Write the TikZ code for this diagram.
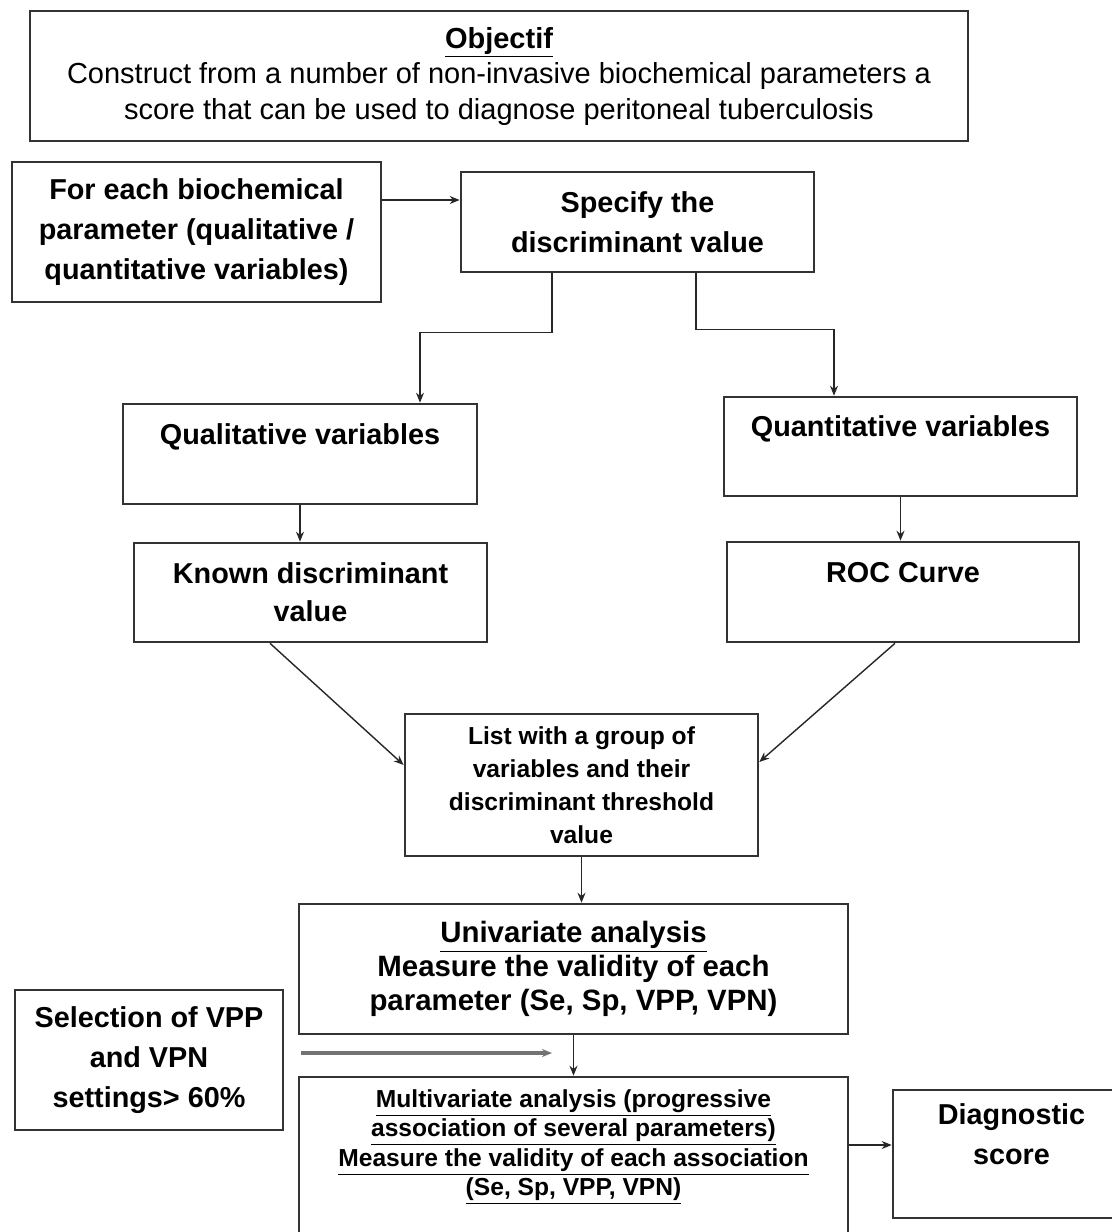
\documentclass[tikz,border=0pt]{standalone}
\usepackage{fontspec}
\setmainfont{Liberation Sans}
\usetikzlibrary{arrows.meta}

\tikzset{every picture/.style={line width=0.75pt}}
\tikzset{
  box/.style={draw=black!80, line width=1.3pt, align=center, inner sep=0pt,
    font=\bfseries\fontsize{14.4}{20}\selectfont},
  arr/.style={-{Stealth[length=5pt,width=4pt]}, line width=0.7pt, draw=black!85},
}

\begin{document}
\begin{tikzpicture}[x=0.5pt,y=-0.5pt]
	\useasboundingbox (0,0) rectangle (1112,1232);
	\clip (0,0) rectangle (1112,1232);
	%Objectif
	\node[box, minimum width=469pt, minimum height=65pt,
	  font=\fontsize{14.5}{17.75}\selectfont] (obj) at (499,76)
	  {\textbf{\underline{Objectif}}\\
	   Construct from a number of non-invasive biochemical parameters a\\
	   score that can be used to diagnose peritoneal tuberculosis};
	%Parametre + valeur discriminante
	\node[box, minimum width=184.5pt, minimum height=70pt] (param) at (196.5,232)
	  {For each biochemical\\ parameter (qualitative /\\ quantitative variables)};
	\node[box, minimum width=176.5pt, minimum height=50pt] (spec) at (637.5,222)
	  {Specify the\\ discriminant value};
	%Variables
	\node[box, minimum width=177pt, minimum height=50pt] (qual) at (300,454)
	  {Qualitative variables\\ \mbox{}};
	\node[box, minimum width=176.5pt, minimum height=49.5pt] (quant) at (900.5,446.5)
	  {Quantitative variables\\ \mbox{}};
	\node[box, minimum width=176.5pt, minimum height=49.5pt,
	  font=\bfseries\fontsize{14.4}{19}\selectfont] (known) at (310.5,592.5)
	  {Known discriminant\\ value};
	\node[box, minimum width=176pt, minimum height=50pt] (roc) at (903,592)
	  {ROC Curve\\ \mbox{}};
	%Liste
	\node[box, minimum width=176.5pt, minimum height=71pt,
	  font=\bfseries\fontsize{12.3}{16.5}\selectfont] (list) at (581.5,785)
	  {List with a group of\\ variables and their\\ discriminant threshold\\ value};
	%Analyses
	\node[box, minimum width=274.5pt, minimum height=65pt,
	  font=\bfseries\fontsize{14.7}{17}\selectfont] (uni) at (573.5,969)
	  {\underline{Univariate analysis}\\ Measure the validity of each\\ parameter (Se, Sp, VPP, VPN)};
	\node[box, minimum width=134pt, minimum height=70pt] (sel) at (149,1060)
	  {Selection of VPP\\ and VPN\\ settings> 60\%};
	\node[box, minimum width=274.5pt, minimum height=91.5pt,
	  font=\bfseries\fontsize{12.3}{14.75}\selectfont] (multi) at (573.5,1168.5)
	  {\underline{Multivariate analysis (progressive}\\
	   \underline{association of several parameters)}\\
	   \underline{Measure the validity of each association}\\
	   \underline{(Se, Sp, VPP, VPN)}\\[11pt] \mbox{}};
	\node[box, minimum width=118.5pt, minimum height=64pt] (diag) at (1011.5,1154)
	  {Diagnostic\\ score\\ \mbox{}};
	\coordinate (selend) at (552,1053);
	%Fleches
	\draw[arr] ([yshift=16pt]param.east) -- ([yshift=16pt]param.east -| spec.west);
	\draw[arr] ([xshift=-42.75pt]spec.south) -- ++(0,59) -| ([xshift=60pt]qual.north);
	\draw[arr] ([xshift=29.25pt]spec.south) -- ++(0,56) -| ([xshift=-33.25pt]quant.north);
	\draw[arr] (qual.south) -- (qual.south |- known.north);
	\draw[arr] (quant.south) -- (quant.south |- roc.north);
	\draw[arr] ([xshift=-20.25pt]known.south) -- ([yshift=10pt]list.west);
	\draw[arr] ([xshift=-4pt]roc.south) -- ([yshift=11.5pt]list.east);
	\draw[arr] (list.south) -- (list.south |- uni.north);
	\draw[arr] (uni.south) -- (uni.south |- multi.north);
	\draw[arr, line width=1.6pt, draw=black!55] ([xshift=8.5pt]sel.east |- selend) -- (selend);
	\draw[arr] ([yshift=4.5pt]multi.east |- diag.west) -- ([yshift=4.5pt]diag.west);
\end{tikzpicture}
\end{document}
